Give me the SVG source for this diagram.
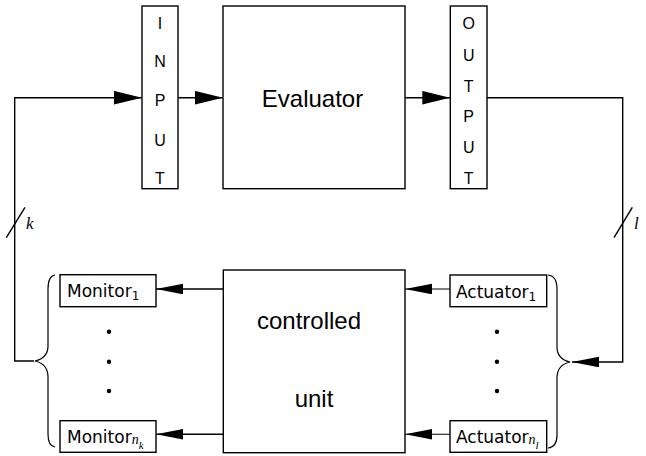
<svg xmlns="http://www.w3.org/2000/svg" width="646" height="456" viewBox="0 0 646 456">
  <defs>
    <marker id="headL" markerUnits="userSpaceOnUse" markerWidth="28" markerHeight="14" refX="28" refY="6.8" orient="auto">
      <path d="M0,0 L28,6.8 L0,13.6 z" fill="#000"/>
    </marker>
    <marker id="headS" markerUnits="userSpaceOnUse" markerWidth="27" markerHeight="11" refX="27" refY="5.3" orient="auto">
      <path d="M0,0 L27,5.3 L0,10.6 z" fill="#000"/>
    </marker>
    <style>
      .box { fill: #fff; stroke: #000; stroke-width: 1.4; }
      .wire { fill: none; stroke: #000; stroke-width: 1.4; }
      .thin { fill: none; stroke: #000; stroke-width: 1.1; }
      .brace { fill: none; stroke: #000; stroke-width: 1.2; }
      .t { font-family: "Liberation Sans", Arial, sans-serif; fill: #000; }
      .big { font-size: 24px; text-anchor: middle; }
      .cap { font-size: 16px; text-anchor: middle; }
      .lbl { font-family: "DejaVu Sans", "Liberation Sans", sans-serif; font-size: 17px; }
      .sub { font-size: 12px; }
      .it { font-family: "Liberation Serif", "Times New Roman", serif; font-style: italic; fill: #000; }
      .dot { fill: #000; }
    </style>
  </defs>

  <!-- connectors -->
  <g id="connectors">
    <path class="wire" d="M34,361 H14.7 V97.7 H142" marker-end="url(#headL)"/>
    <path class="wire" d="M178,97.7 H223" marker-end="url(#headL)"/>
    <path class="wire" d="M405,97.7 H450.3" marker-end="url(#headL)"/>
    <path class="wire" d="M487,97.7 H622.7 V362 H572" marker-end="url(#headS)"/>
    <path class="wire" d="M223.3,289 H156" marker-end="url(#headS)"/>
    <path class="wire" d="M223.3,434.3 H156" marker-end="url(#headS)"/>
    <path class="thin" d="M450,289 H405" marker-end="url(#headS)"/>
    <path class="thin" d="M450,434.3 H405" marker-end="url(#headS)"/>
    <!-- bus width marks -->
    <line class="wire" x1="6.3" y1="237.7" x2="25" y2="207.3"/>
    <text class="it" x="26" y="229" font-size="17">k</text>
    <line class="wire" x1="614" y1="237.7" x2="632.3" y2="207.3"/>
    <text class="it" x="634" y="229" font-size="17">l</text>
  </g>

  <g id="input">
    <rect class="box" x="142" y="6" width="36" height="182.7"/>
    <text class="t cap" x="160" y="29">I</text>
    <text class="t cap" x="160" y="67">N</text>
    <text class="t cap" x="160" y="105.5">P</text>
    <text class="t cap" x="160" y="145.5">U</text>
    <text class="t cap" x="160" y="184">T</text>
  </g>

  <g id="evaluator">
    <rect class="box" x="223" y="6" width="182" height="182.7"/>
    <text class="t big" x="312.5" y="107">Evaluator</text>
  </g>

  <g id="output">
    <rect class="box" x="450.3" y="6" width="36.7" height="182.7"/>
    <text class="t cap" x="468.7" y="29">O</text>
    <text class="t cap" x="468.7" y="61">U</text>
    <text class="t cap" x="468.7" y="91.5">T</text>
    <text class="t cap" x="468.7" y="122">P</text>
    <text class="t cap" x="468.7" y="153">U</text>
    <text class="t cap" x="468.7" y="184">T</text>
  </g>

  <g id="controlled-unit">
    <rect class="box" x="223.3" y="270" width="181.7" height="182.7"/>
    <text class="t big" x="309" y="329">controlled</text>
    <text class="t big" x="314" y="407">unit</text>
  </g>

  <g id="monitors">
    <path class="brace" d="M55,275 Q48,276 48,289 L48,346 Q48,358 35,361 Q48,364 48,377 L48,434 Q48,446 55,447"/>
    <g id="monitor-1">
      <rect class="box" x="60" y="274.7" width="96" height="32"/>
      <text class="t lbl" x="67" y="297.3">Monitor<tspan class="sub" dy="3">1</tspan></text>
    </g>
    <circle class="dot" cx="109" cy="331.7" r="2.2"/>
    <circle class="dot" cx="109" cy="361.7" r="2.2"/>
    <circle class="dot" cx="109" cy="391" r="2.2"/>
    <g id="monitor-nk">
      <rect class="box" x="60" y="420.7" width="96" height="31.6"/>
      <text class="t lbl" x="67" y="442.7">Monitor<tspan class="it" font-size="14" dy="1.5">n</tspan><tspan class="it" font-size="11" dy="5">k</tspan></text>
    </g>
  </g>

  <g id="actuators">
    <path class="brace" d="M548,275 Q557,276 557,289 L557,347 Q557,359 570,362 Q557,365 557,378 L557,435 Q557,447 548,448"/>
    <g id="actuator-1">
      <rect class="box" x="450" y="275" width="96.7" height="31.7"/>
      <text class="t lbl" x="456" y="297.5">Actuator<tspan class="sub" dy="3">1</tspan></text>
    </g>
    <circle class="dot" cx="497" cy="331.7" r="2.2"/>
    <circle class="dot" cx="497" cy="361.7" r="2.2"/>
    <circle class="dot" cx="497" cy="391" r="2.2"/>
    <g id="actuator-nl">
      <rect class="box" x="450" y="420.7" width="96.7" height="31.6"/>
      <text class="t lbl" x="456" y="442.7">Actuator<tspan class="it" font-size="14" dy="1.5">n</tspan><tspan class="it" font-size="11" dy="5">l</tspan></text>
    </g>
  </g>
</svg>
